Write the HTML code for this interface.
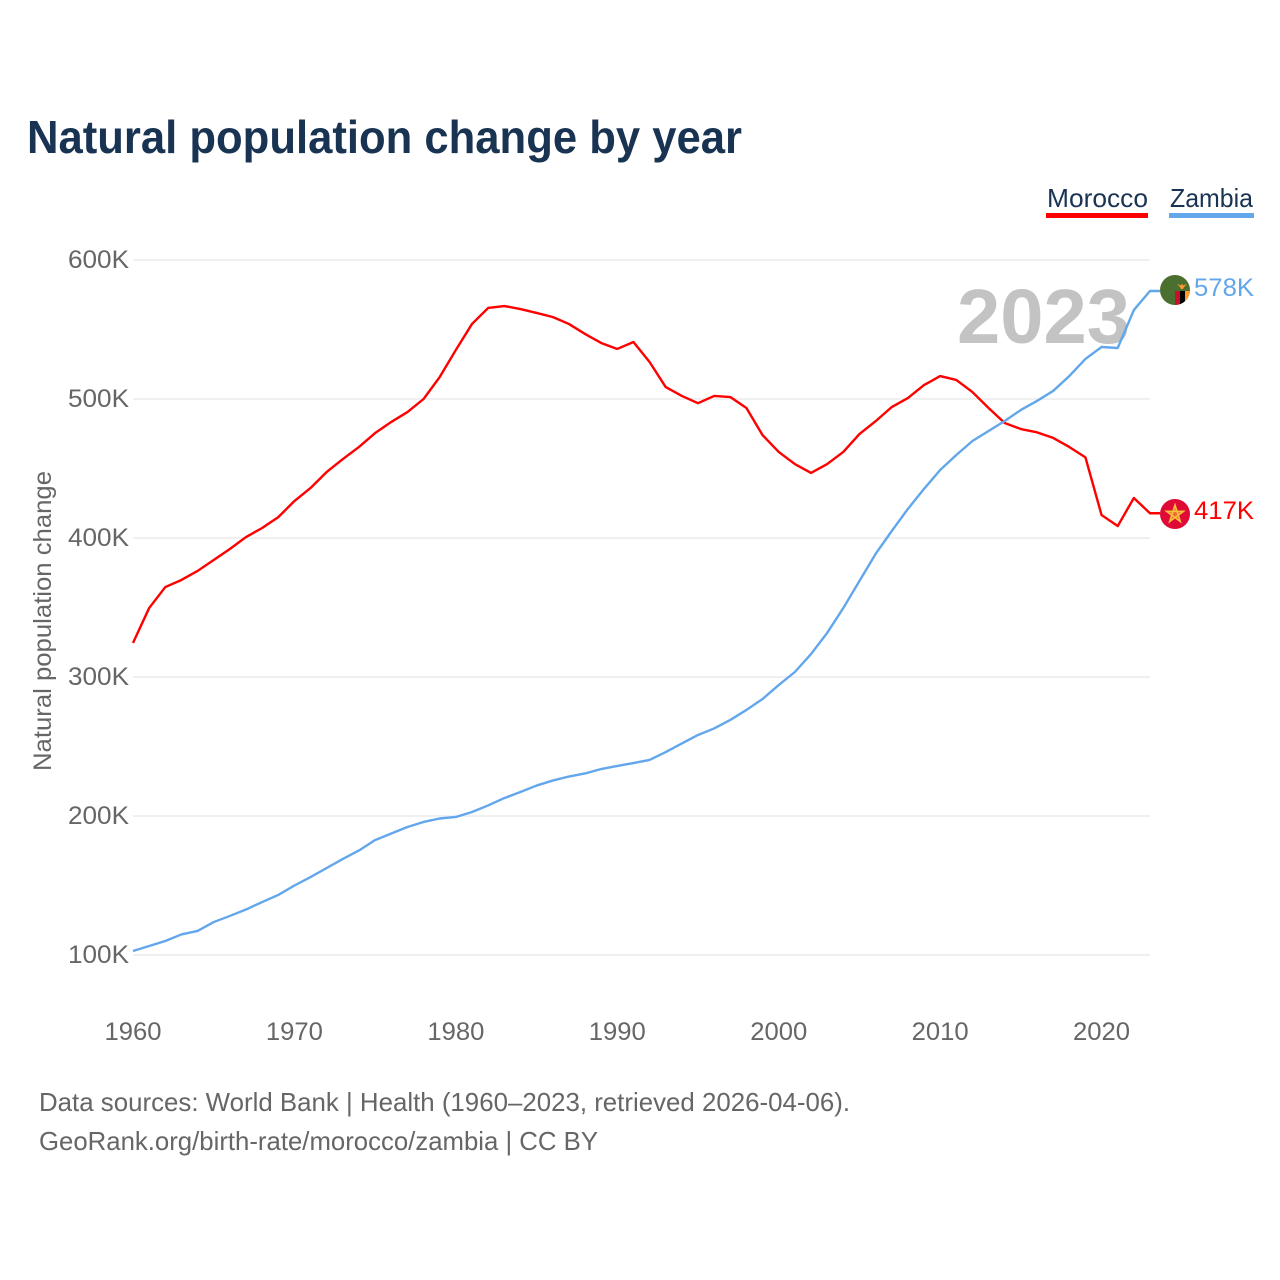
<!DOCTYPE html>
<html lang="en">
<head>
<meta charset="utf-8">
<title>Natural population change by year</title>
<style>
html,body{margin:0;padding:0;background:#fff;width:1280px;height:1280px;overflow:hidden}
svg{display:block;font-family:"Liberation Sans",sans-serif}
</style>
</head>
<body>
<svg id="chart" width="1280" height="1280" viewBox="0 0 1280 1280" xmlns="http://www.w3.org/2000/svg">
  <rect width="1280" height="1280" fill="#ffffff"/>
  <text x="27" y="153" font-size="46" font-weight="700" fill="#193353" textLength="715" lengthAdjust="spacingAndGlyphs">Natural population change by year</text>

  <g>
    <text x="1047" y="207" font-size="26" fill="#193353" textLength="101" lengthAdjust="spacingAndGlyphs">Morocco</text>
    <rect x="1046" y="213" width="102" height="5" fill="#ff0000"/>
  </g>
  <g>
    <text x="1170" y="207" font-size="26" fill="#193353" textLength="83" lengthAdjust="spacingAndGlyphs">Zambia</text>
    <rect x="1169" y="213" width="85" height="5" fill="#62a6ec"/>
  </g>

  <g id="grid"></g>
  <g id="yticks"></g>
  <g id="xticks"></g>

  <text transform="translate(51 771) rotate(-90)" font-size="25" fill="#666666" textLength="300" lengthAdjust="spacingAndGlyphs">Natural population change</text>

  <text x="957" y="343" font-size="77" font-weight="700" fill="#c3c3c3" textLength="173" lengthAdjust="spacingAndGlyphs">2023</text>

  <g id="series"></g>

  <g>
    <clipPath id="clip-zm"><circle cx="1175" cy="290" r="15"/></clipPath>
    <g clip-path="url(#clip-zm)">
      <rect x="1160" y="275" width="30" height="30" fill="#4b6f2e"/>
      <rect x="1175" y="291" width="5" height="14" fill="#c8102e"/>
      <rect x="1180" y="291" width="5" height="14" fill="#000000"/>
      <rect x="1185" y="291" width="5" height="14" fill="#ff9a2e"/>
      <path d="M1177 284 L1181 285.5 L1182 283.5 L1183 285.5 L1187 284 L1184 287 L1183 289 L1181 289 L1180 287 Z" fill="#ff9a2e"/>
    </g>
  </g>
  <g>
    <circle cx="1175" cy="514" r="15" fill="#df0a35"/>
    <path d="M1175 505 L1180.3 521.5 L1166.5 511.3 L1183.5 511.3 L1169.7 521.5 Z" fill="#f7bf3a" fill-opacity="0.55" stroke="#f7bf3a" stroke-width="1.6"/>
  </g>

  <text x="1194" y="296" font-size="25" fill="#62a6ec" textLength="60" lengthAdjust="spacingAndGlyphs">578K</text>
  <text x="1194" y="519" font-size="25" fill="#ff0000" textLength="60" lengthAdjust="spacingAndGlyphs">417K</text>

  <text x="39" y="1111" font-size="26" fill="#666666" textLength="811" lengthAdjust="spacingAndGlyphs">Data sources: World Bank | Health (1960–2023, retrieved 2026-04-06).</text>
  <text x="39" y="1150" font-size="26" fill="#666666" textLength="559" lengthAdjust="spacingAndGlyphs">GeoRank.org/birth-rate/morocco/zambia | CC BY</text>
</svg>
<script>
const startYear = 1960;
const yTickValues = [100, 200, 300, 400, 500, 600];
const yTickLabels = ["100K", "200K", "300K", "400K", "500K", "600K"];
const xTickValues = [1960, 1970, 1980, 1990, 2000, 2010, 2020];
const xTickLabels = ["1960", "1970", "1980", "1990", "2000", "2010", "2020"];
const moroccoValues = [324.5,349.6,364.7,369.8,376.3,384.2,392.1,400.7,407.2,415,426.6,436,447.5,456.8,465.5,475.5,483.5,490.6,500,515.8,535.3,554,565.5,566.9,564.7,561.9,559,554,546.8,540.3,536,541,526.6,508.6,502.2,497,502.2,501.4,493.5,474,461.9,453.2,446.8,453.2,461.9,474.8,484,494.2,500.7,510,516.5,513.7,505,493.5,482.7,478.4,476,472,465.5,458,416.5,408.6,428.8,417.8];
const zambiaValues = [102.9,106.5,110.1,114.8,117.3,123.7,128.1,132.7,138.1,143.2,150,156.1,162.6,169.1,175.2,182.7,187.4,192.1,195.7,198.2,199.3,202.9,207.6,212.9,217.3,221.9,225.5,228.4,230.6,233.8,236,238.1,240.3,246,252.2,258.3,263,269.1,276.3,284.2,294.2,303.6,316.5,331.7,349.6,369.1,388.5,405,420.9,435.3,448.9,459.7,469.8,477,484.2,492.1,498.6,505.8,516.5,528.8,537.4,536.7,564,577.7];

const NS = "http://www.w3.org/2000/svg";
function xScale(year) { return 133 + (year - 1960) * (1150 - 133) / 63; }
function yScale(value) { return 955 - (value - 100) * (955 - 260) / 500; }

const grid = document.getElementById("grid");
const yticks = document.getElementById("yticks");
const xticks = document.getElementById("xticks");
const series = document.getElementById("series");

yTickValues.forEach(function (v, i) {
  const line = document.createElementNS(NS, "line");
  
  
  line.setAttribute("x1", xScale(1960));
  line.setAttribute("x2", xScale(2023));
  line.setAttribute("y1", yScale(v));
  line.setAttribute("y2", yScale(v));
  line.setAttribute("stroke", "#ebebeb");
  line.setAttribute("stroke-width", "1.5");
  grid.appendChild(line);

  const label = document.createElementNS(NS, "text");
  
  
  label.setAttribute("x", 68);
  label.setAttribute("y", yScale(v) + 8);
  label.setAttribute("font-size", "25");
  label.setAttribute("fill", "#666666");
  label.setAttribute("textLength", "61");
  label.setAttribute("lengthAdjust", "spacingAndGlyphs");
  label.textContent = yTickLabels[i];
  yticks.appendChild(label);
});

xTickValues.forEach(function (v, i) {
  const label = document.createElementNS(NS, "text");
  
  
  label.setAttribute("x", xScale(v) - 28.5);
  label.setAttribute("y", 1040);
  label.setAttribute("font-size", "25");
  label.setAttribute("fill", "#666666");
  label.setAttribute("textLength", "57");
  label.setAttribute("lengthAdjust", "spacingAndGlyphs");
  label.textContent = xTickLabels[i];
  xticks.appendChild(label);
});

function drawSeries(values, color) {
  const pts = values.map(function (v, i) {
    return xScale(startYear + i).toFixed(2) + "," + yScale(v).toFixed(2);
  });
  const last = values[values.length - 1];
  pts.push("1160," + yScale(last).toFixed(2));
  const poly = document.createElementNS(NS, "polyline");
  poly.setAttribute("points", pts.join(" "));
  poly.setAttribute("fill", "none");
  poly.setAttribute("stroke", color);
  poly.setAttribute("stroke-width", "2.4");
  poly.setAttribute("stroke-linejoin", "round");
  return poly;
}

const moroccoLine = drawSeries(moroccoValues, "#ff0000");


series.appendChild(moroccoLine);

const zambiaLine = drawSeries(zambiaValues, "#62a6ec");


series.appendChild(zambiaLine);
</script>
</body>
</html>
